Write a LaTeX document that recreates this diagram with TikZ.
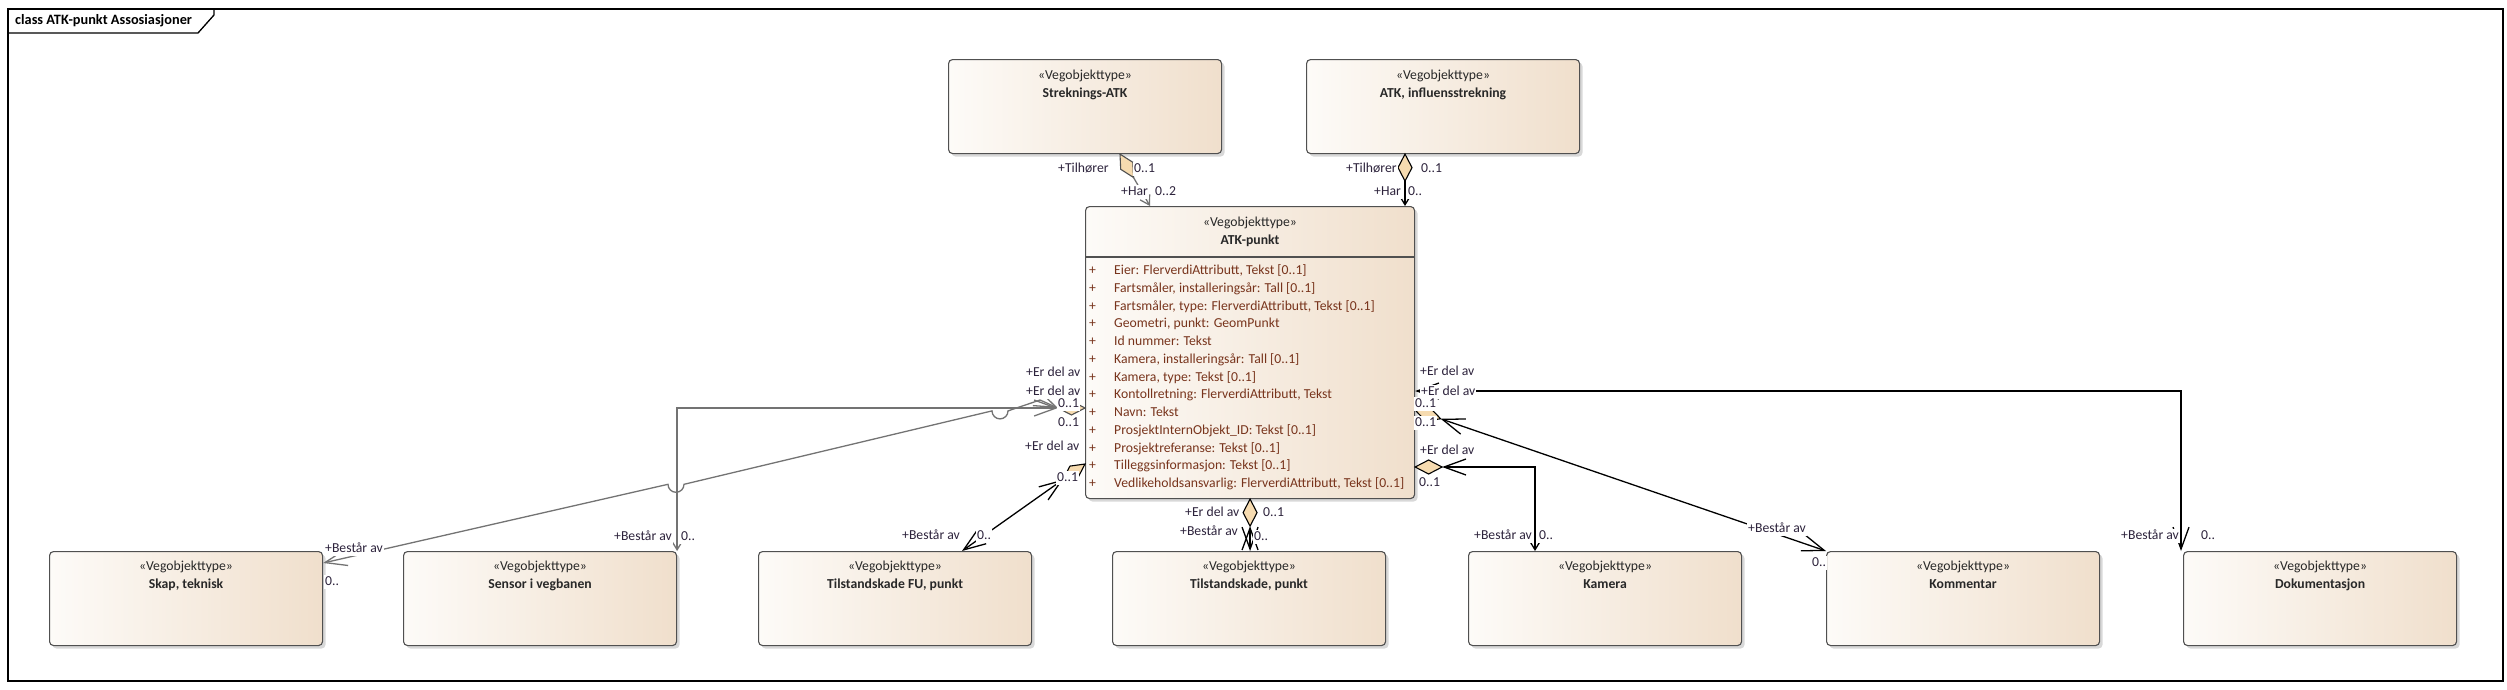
\documentclass[tikz,border=0pt]{standalone}
\usepackage{fontspec}
\setmainfont{Carlito}
\usetikzlibrary{arrows.meta, shapes.geometric, shadows, calc}

\definecolor{vleft}{RGB}{253,251,248}
\definecolor{vright}{RGB}{240,223,204}
\definecolor{aggfill}{RGB}{246,219,176}
\definecolor{attrtext}{RGB}{120,52,28}
\definecolor{roletext}{RGB}{45,35,60}
\definecolor{stereotext}{RGB}{40,40,40}
\definecolor{boxline}{RGB}{80,80,80}
\definecolor{greyline}{RGB}{115,115,115}

\begin{document}
\begin{tikzpicture}[x=1pt, y=-1pt,
    every node/.style={font=\fontsize{13.7}{17.75}\selectfont, text height=9.5pt, text depth=2.5pt},
    vobj/.style={draw=boxline, line width=1.1pt, rounded corners=4pt, left color=vleft, right color=vright,
      anchor=north west, minimum width=273pt, minimum height=94pt, inner sep=0pt,
      drop shadow={shadow xshift=3pt, shadow yshift=-3pt, fill=black!30}},
    stereo/.style={text=stereotext, inner sep=0pt},
    vtitle/.style={stereo, font=\fontsize{13.7}{17.75}\selectfont\bfseries},
    attr/.style={text=attrtext, anchor=west, inner sep=0pt},
    role/.style={text=roletext, fill=white, inner sep=1pt, anchor=west},
    agg/.style={shape=diamond, draw, fill=aggfill, line width=1.1pt, minimum width=27pt, minimum height=14pt,
      inner sep=0pt, outer sep=0pt, text height=0pt, text depth=0pt, sloped, allow upside down, pos=0, anchor=west},
    conn/.style={draw=black, line width=1.3pt},
    gconn/.style={draw=greyline, line width=1.3pt},
    barb/.tip={Straight Barb[length=22pt, width=16pt]},
    smallbarb/.tip={Straight Barb[length=9pt, width=11pt]},
  ]
    \useasboundingbox (0,0) rectangle (2507,689);

    % frame
    \draw[line width=1.3pt] (8,9) rectangle (2503,681);
    \draw[line width=1.3pt] (8,33) -- (198,33) -- (214,15) -- (214,9);
    \node[anchor=west, inner sep=0pt, font=\fontsize{14.3}{17.75}\selectfont\bfseries] (title) at (15,21) {class ATK-punkt Assosiasjoner};

    % classes
    \node[vobj] (strek) at (948,59) {};
    \node[vobj] (infl) at (1306,59) {};
    \node[vobj, minimum width=329pt, minimum height=292pt] (atk) at (1085,206) {};
    \node[vobj] (skap) at (49,551) {};
    \node[vobj] (sensor) at (403,551) {};
    \node[vobj] (fu) at (758,551) {};
    \node[vobj] (tpunkt) at (1112,551) {};
    \node[vobj] (kamera) at (1468,551) {};
    \node[vobj] (komm) at (1826,551) {};
    \node[vobj] (dok) at (2183,551) {};

    \path (strek.north) ++(0,17) node[stereo] {«Vegobjekttype»} ++(0,18) node[vtitle] {Streknings-ATK};
    \path (infl.north) ++(0,17) node[stereo] {«Vegobjekttype»} ++(0,18) node[vtitle] {ATK, influensstrekning};
    \path (atk.north) ++(0,17) node[stereo] {«Vegobjekttype»} ++(0,18) node[vtitle] {ATK-punkt};
    \path (skap.north) ++(0,16) node[stereo] {«Vegobjekttype»} ++(0,18) node[vtitle] {Skap, teknisk};
    \path (sensor.north) ++(0,16) node[stereo] {«Vegobjekttype»} ++(0,18) node[vtitle] {Sensor i vegbanen};
    \path (fu.north) ++(0,16) node[stereo] {«Vegobjekttype»} ++(0,18) node[vtitle] {Tilstandskade FU, punkt};
    \path (tpunkt.north) ++(0,16) node[stereo] {«Vegobjekttype»} ++(0,18) node[vtitle] {Tilstandskade, punkt};
    \path (kamera.north) ++(0,16) node[stereo] {«Vegobjekttype»} ++(0,18) node[vtitle] {Kamera};
    \path (komm.north) ++(0,16) node[stereo] {«Vegobjekttype»} ++(0,18) node[vtitle] {Kommentar};
    \path (dok.north) ++(0,16) node[stereo] {«Vegobjekttype»} ++(0,18) node[vtitle] {Dokumentasjon};

    % attributes
    \draw[draw=boxline, line width=1.1pt] ([yshift=-51pt]atk.north west) -- ([yshift=-51pt]atk.north east);
    \foreach \attrtxt [count=\i from 0] in {{Eier: FlerverdiAttributt, Tekst [0..1]},
        {Fartsmåler, installeringsår: Tall [0..1]},
        {Fartsmåler, type: FlerverdiAttributt, Tekst [0..1]},
        {Geometri, punkt: GeomPunkt},
        {Id nummer: Tekst},
        {Kamera, installeringsår: Tall [0..1]},
        {Kamera, type: Tekst [0..1]},
        {Kontollretning: FlerverdiAttributt, Tekst},
        {Navn: Tekst},
        {ProsjektInternObjekt\_ID: Tekst [0..1]},
        {Prosjektreferanse: Tekst [0..1]},
        {Tilleggsinformasjon: Tekst [0..1]},
        {Vedlikeholdsansvarlig: FlerverdiAttributt, Tekst [0..1]}}
      \path (atk.north west) ++(4,65+17.75*\i) node[attr] {\makebox[25pt][l]{+}\attrtxt};

    % aggregations from the top
    \path ([xshift=172pt]strek.south west) -- node[agg, draw=boxline] (dstrek) {} ([xshift=65pt]atk.north west);
    \draw[gconn, -smallbarb] (dstrek.east) -- ([xshift=65pt]atk.north west);
    \path ([xshift=99pt]infl.south west) -- node[agg] (dinfl) {} ([xshift=320pt]atk.north west);
    \draw[conn, -smallbarb] (dinfl.east) -- ([xshift=320pt]atk.north west);

    % parts on the left
    \path ([yshift=-202pt]atk.north west) -- node[agg, draw=boxline] (dsk) {} ++(-30,0);
    \draw[gconn, barb-barb] ([yshift=-12pt]skap.north east) -- (668,484.3) arc[start angle=180, end angle=0, radius=8]
      -- (992,410.9) arc[start angle=180, end angle=0, radius=8] -- (1040,400) -- (dsk.east);
    \draw[gconn, smallbarb-barb] (sensor.north east) |- (dsk.east);
    \path ([yshift=-258pt]atk.north west) -- node[agg] (dfu) {} ([xshift=204pt]fu.north west);
    \draw[conn, barb-barb] (dfu.east) -- ([xshift=204pt]fu.north west);

    % parts below and on the right
    \path (atk.south) -- node[agg] (dtp) {} (atk.south |- tpunkt.north);
    \draw[conn, barb-barb] (dtp.east) -- (atk.south |- tpunkt.north);
    \path ([yshift=-261pt]atk.north east) -- node[agg] (dkam) {} ++(30,0);
    \draw[conn, barb-smallbarb] (dkam.east) -| ([xshift=67pt]kamera.north west);
    \path ([yshift=-204pt]atk.north east) -- node[agg] (dkomm) {} (komm.north west);
    \draw[conn, barb-barb] (dkomm.east) -- (komm.north west);
    \draw[conn, barb-barb] ([yshift=-185pt]atk.north east) -| ([xshift=-2pt]dok.north west);

    % role names and multiplicities
    \node[role] at (1057,169) {+Tilhører};
    \node[role] at (1133,169) {0..1};
    \node[role] at (1120,192) {+Har};
    \node[role] at (1154,192) {0..2};
    \node[role] at (1345,169) {+Tilhører};
    \node[role] at (1420,169) {0..1};
    \node[role] at (1373,192) {+Har};
    \node[role] at (1407,192) {0..};

    \node[role] at (1025,373) {+Er del av};
    \node[role] at (1025,392) {+Er del av};
    \node[role] at (1057,404) {0..1};
    \node[role] at (1057,423) {0..1};
    \node[role] at (1024,447) {+Er del av};
    \node[role] at (1056,478) {0..1};

    \node[role] at (1419,372) {+Er del av};
    \node[role] at (1420,392) {+Er del av};
    \node[role] at (1414,404) {0..1};
    \node[role] at (1414,423) {0..1};
    \node[role] at (1419,451) {+Er del av};
    \node[role] at (1418,483) {0..1};

    \node[role] at (1184,513) {+Er del av};
    \node[role] at (1262,513) {0..1};
    \node[role] at (1179,532) {+Består av};
    \node[role] at (1253,537) {0..};

    \node[role] at (324,549) {+Består av};
    \node[role] at (324,582) {0..};
    \node[role] at (613,537) {+Består av};
    \node[role] at (680,537) {0..};
    \node[role] at (901,536) {+Består av};
    \node[role] at (976,536) {0..};
    \node[role] at (1473,536) {+Består av};
    \node[role] at (1538,536) {0..};
    \node[role] at (1747,529) {+Består av};
    \node[role] at (1811,563) {0..};
    \node[role] at (2120,536) {+Består av};
    \node[role] at (2200,536) {0..};
\end{tikzpicture}
\end{document}
